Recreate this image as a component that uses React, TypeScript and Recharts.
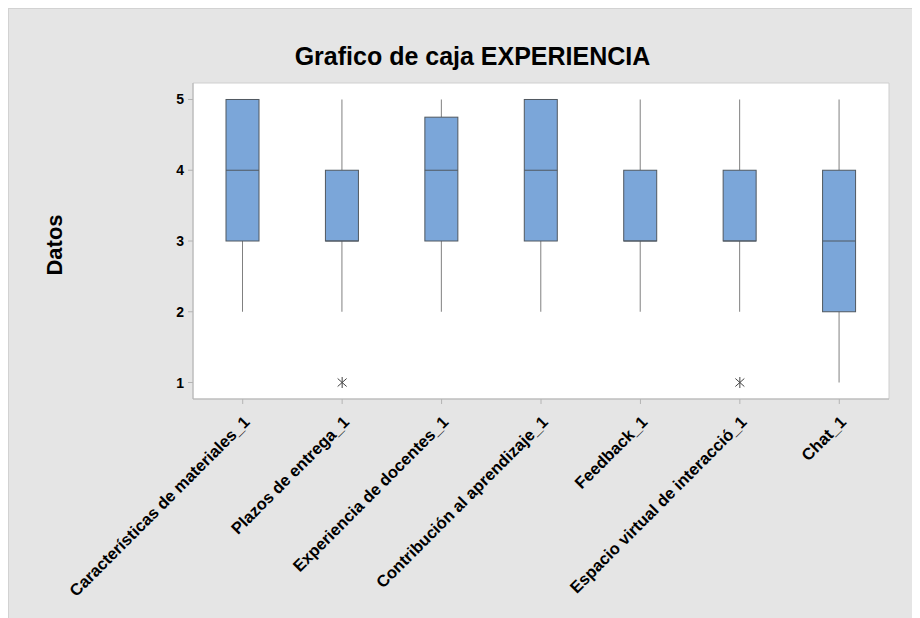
import React from 'react';
import { ComposedChart, Bar, Scatter, XAxis, YAxis, CartesianGrid, ReferenceArea } from 'recharts';

// Box plot summary per variable
const categories = [
  'Características de materiales_1',
  'Plazos de entrega_1',
  'Experiencia de docentes_1',
  'Contribución al aprendizaje_1',
  'Feedback_1',
  'Espacio virtual de interacció_1',
  'Chat_1',
];
const whiskerLow = [2, 2, 2, 2, 2, 2, 1];
const q1 = [3, 3, 3, 3, 3, 3, 2];
const median = [4, 3, 4, 4, 3, 3, 3];
const q3 = [5, 4, 4.75, 5, 4, 4, 4];
const whiskerHigh = [5, 5, 5, 5, 5, 5, 5];
const outliers: (number | null)[] = [null, 1, null, null, null, 1, null];
const yTicks = [1, 2, 3, 4, 5];

const data = categories.map((name, i) => ({
  name,
  range: [whiskerLow[i], whiskerHigh[i]],
  lo: whiskerLow[i],
  q1: q1[i],
  med: median[i],
  q3: q3[i],
  hi: whiskerHigh[i],
  outlier: outliers[i],
}));

const FONT = '"Liberation Sans", Arial, sans-serif';
const BOX_FILL = '#7BA6D9';
const BOX_STROKE = '#505860';
const WHISKER = '#808080';

const BoxShape = (props: any) => {
  const { x, y, width, height, payload } = props;
  if (!payload || !isFinite(y) || !isFinite(height)) return null;
  const top = Math.min(y, y + height);
  const bottom = Math.max(y, y + height);
  const { lo, hi } = payload;
  const toPx = (v: number) => bottom - ((bottom - top) * (v - lo)) / (hi - lo);
  const cx = x + width / 2;
  const yQ1 = toPx(payload.q1);
  const yQ3 = toPx(payload.q3);
  const yMed = toPx(payload.med);
  return (
    <g>
      <line x1={cx} x2={cx} y1={top} y2={yQ3} stroke={WHISKER} strokeWidth={1} />
      <line x1={cx} x2={cx} y1={yQ1} y2={bottom} stroke={WHISKER} strokeWidth={1} />
      <rect x={x} y={yQ3} width={width} height={yQ1 - yQ3} fill={BOX_FILL} stroke={BOX_STROKE} strokeWidth={1} />
      <line x1={x} x2={x + width} y1={yMed} y2={yMed} stroke={BOX_STROKE} strokeWidth={1} />
    </g>
  );
};

// Outlier marker: an X crossed by a short vertical stroke
const Asterisk = (props: any) => {
  const { cx, cy } = props;
  if (!isFinite(cx) || !isFinite(cy)) return null;
  return (
    <g stroke="#444" strokeWidth={1}>
      <line x1={cx} x2={cx} y1={cy - 5.5} y2={cy + 5.5} />
      <line x1={cx - 4.5} x2={cx + 4.5} y1={cy - 4} y2={cy + 4} />
      <line x1={cx - 4.5} x2={cx + 4.5} y1={cy + 4} y2={cy - 4} />
    </g>
  );
};

const XTick = (props: any) => {
  const { x, y, payload } = props;
  return (
    <text
      transform={`translate(${x + 8}, ${y + 19}) rotate(-45)`}
      textAnchor="end"
      fontFamily={FONT}
      fontWeight="bold"
      fontSize={16.5}
      fill="#000"
    >
      {payload.value}
    </text>
  );
};

const YTick = (props: any) => {
  const { x, y, payload } = props;
  return (
    <text x={x + 1} y={y + 5} textAnchor="end" fontFamily={FONT} fontWeight="bold" fontSize={14} fill="#000">
      {payload.value}
    </text>
  );
};

export default function App() {
  return (
    <div
      style={{
        width: 912,
        height: 610,
        background: '#e5e5e5',
        borderTop: '1px solid #d2d2d2',
        borderLeft: '1px solid #d2d2d2',
        boxSizing: 'border-box',
      }}
    >
      <ComposedChart
        width={911}
        height={609}
        data={data}
        margin={{ top: 74, right: 31, bottom: 189, left: 144 }}
      >
        <CartesianGrid horizontal={false} vertical={false} fill="#ffffff" />
        <ReferenceArea y1={0.767} y2={5.233} fill="none" stroke="#cfcfcf" ifOverflow="visible" />
        <XAxis
          dataKey="name"
          type="category"
          interval={0}
          height={30}
          tick={<XTick />}
          tickSize={5}
          tickMargin={0}
          axisLine={{ stroke: '#b4b4b4' }}
          tickLine={{ stroke: '#b4b4b4' }}
        />
        <YAxis
          type="number"
          domain={[0.767, 5.233]}
          ticks={yTicks}
          allowDataOverflow
          width={40}
          tickSize={5}
          tickMargin={5}
          tick={<YTick />}
          axisLine={{ stroke: '#b4b4b4' }}
          tickLine={{ stroke: '#b4b4b4' }}
        />
        <Bar dataKey="range" barSize={33} shape={<BoxShape />} isAnimationActive={false} />
        <Scatter dataKey="outlier" shape={<Asterisk />} isAnimationActive={false} />
        <text
          x={463.5}
          y={56}
          textAnchor="middle"
          fontFamily={FONT}
          fontWeight="bold"
          fontSize={25}
          fill="#000"
        >
          Grafico de caja EXPERIENCIA
        </text>
        <text
          transform="translate(45, 236) rotate(-90)"
          textAnchor="middle"
          dominantBaseline="central"
          fontFamily={FONT}
          fontWeight="bold"
          fontSize={22}
          fill="#000"
        >
          Datos
        </text>
      </ComposedChart>
    </div>
  );
}
